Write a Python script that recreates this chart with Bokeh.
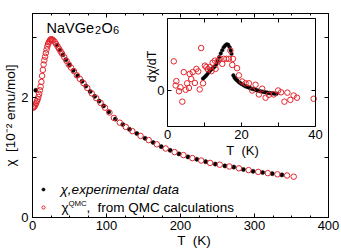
from math import pi
from bokeh.plotting import figure
from bokeh.models import (LinearAxis, Range1d, FixedTicker, Label, Legend, LegendItem)
from bokeh.core.properties import value
from bokeh.embed import file_html
from bokeh.resources import INLINE

# ---------------- data ----------------
# main panel: susceptibility chi [1e-2 emu/mol] vs T [K]
qmc_T = [1, 2, 3, 4, 5, 6, 7, 8, 9, 10, 11, 12, 13, 14, 15, 16, 17, 18, 19, 20,
         21, 22, 23, 24, 25, 26, 27, 28, 30, 32, 34, 36, 38, 40,
         43, 46, 49, 52, 56, 60, 64, 69, 74, 80, 86, 92, 98, 104, 110, 118,
         126, 135, 146, 157, 168, 180, 192, 204, 216, 228, 240, 253, 266, 279,
         292, 305, 318, 331, 344, 353]
qmc_chi = [1.83, 1.84, 1.86, 1.88, 1.91, 1.94, 1.97, 2.01, 2.06, 2.12, 2.18, 2.26,
           2.36, 2.46, 2.55, 2.62, 2.68, 2.74, 2.80, 2.85, 2.89, 2.92, 2.94, 2.96,
           2.97, 2.97, 2.96, 2.95, 2.93, 2.89, 2.85, 2.81, 2.77, 2.73,
           2.67, 2.61, 2.55, 2.50, 2.44, 2.37, 2.31, 2.24, 2.16, 2.07, 1.99, 1.91,
           1.83, 1.75, 1.66, 1.58, 1.51, 1.44, 1.36, 1.29, 1.22, 1.15, 1.09, 1.04,
           0.99, 0.95, 0.91, 0.88, 0.85, 0.82, 0.79, 0.76, 0.74, 0.72, 0.70, 0.68]
exp_T = [4.5, 33, 37, 41, 45, 50, 55, 61, 67, 72, 78, 84, 90, 96, 103, 112, 122,
         131, 141, 152, 163, 174, 186, 198, 210, 222, 234, 247, 260, 272, 285,
         298, 311, 324, 337]
exp_chi = [2.12, 2.87, 2.79, 2.71, 2.63, 2.54, 2.45, 2.36, 2.27, 2.19, 2.10, 2.02,
           1.94, 1.86, 1.76, 1.64, 1.55, 1.47, 1.40, 1.32, 1.25, 1.18, 1.12, 1.06,
           1.01, 0.97, 0.93, 0.89, 0.86, 0.84, 0.80, 0.77, 0.75, 0.73, 0.71]

# inset: dchi/dT vs T
inset_qmc_T = [1.7, 2.4, 2.2, 3.1, 3.5, 4.0, 4.4, 4.9, 5.3, 5.8, 6.0, 6.4, 6.8, 7.4,
               7.8, 8.3, 8.7, 9.1, 9.6, 10.1, 10.5, 10.9, 11.4, 11.9, 12.2, 12.8,
               13.0, 13.6, 14.1, 14.8, 15.2, 15.9, 16.6, 17.0, 17.5, 17.7, 18.8,
               19.3, 20.2, 21.1, 22.0, 22.9, 23.8, 24.7, 25.6, 26.5, 27.4, 28.7,
               29.9, 30.7, 31.6, 32.4, 33.2, 34.1, 35.0, 39.5]
inset_qmc_d = [0.81, 0.26, 0.14, -0.02, 0.09, -0.31, 0.51, 0.02, 0.20, 0.07, 0.46,
               0.32, 0.51, 0.21, 0.60, 0.53, 0.03, 1.18, 0.20, 0.69, 0.65, 0.59,
               0.65, 0.54, 0.77, 0.83, 0.60, 0.81, 0.88, 0.74, 0.88, 0.88, 0.88,
               1.11, 0.71, 0.88, 0.62, 0.42, 0.25, 0.20, 0.20, 0.00, 0.16, -0.11,
               0.05, -0.20, -0.12, -0.11, 0.00, -0.05, -0.31, -0.06, -0.26, -0.14,
               -0.20, -0.23]
inset_exp_T = [9.6, 10.0, 10.4, 10.8, 11.2, 11.6, 12.0, 12.4, 12.8, 13.2, 13.6, 14.0,
               14.4, 14.8, 15.2, 15.6, 16.0, 16.4, 16.8, 17.1, 17.3,
               17.8, 18.1, 18.4, 18.8, 19.2, 19.6, 20.0, 20.5, 21.0, 21.5, 22.0,
               22.5, 23.0, 23.5, 24.0, 24.5, 25.0, 25.5, 26.0, 26.5, 27.0, 27.5,
               28.0, 28.5, 29.0, 29.5]
inset_exp_d = [0.33, 0.37, 0.41, 0.46, 0.51, 0.56, 0.60, 0.63, 0.67, 0.73, 0.82, 0.93,
               1.03, 1.12, 1.20, 1.25, 1.28, 1.27, 1.20, 1.11, 1.02,
               0.42, 0.36, 0.32, 0.28, 0.24, 0.21, 0.18, 0.15, 0.12, 0.10, 0.08,
               0.06, 0.04, 0.03, 0.01, 0.00, -0.02, -0.03, -0.04, -0.05, -0.06,
               -0.07, -0.08, -0.08, -0.09, -0.09]

# ticks
x_ticks = [0, 100, 200, 300, 400]
x_tick_labels = ["0", "100", "200", "300", "400"]
x_minor = [25, 50, 75, 125, 150, 175, 225, 250, 275, 325, 350, 375]
y_ticks = [0, 1, 2, 3]
y_tick_labels = ["0", "", "2", ""]
ix_ticks = [0, 10, 20, 30, 40]
ix_tick_labels = ["0", "", "20", "", "40"]
iy_ticks = [0]
iy_tick_labels = ["0"]

# ---------------- styling ----------------
FONT = "Liberation Sans"
RED = "#e3262d"
FL, FB, FR, FT = 32, 217, 328, 13     # frame edges in canvas pixels
XMAX, YMAX = 400, 3.4
SX = (FR - FL) / XMAX                 # px per K
SY = (FB - FT) / YMAX                 # px per unit

p = figure(width=341, height=252, x_range=(0, XMAX), y_range=(0, YMAX),
           output_backend="svg", toolbar_location=None,
           x_axis_type=None, y_axis_type=None,
           min_border_left=FL, min_border_right=341 - FR, min_border_top=FT,
           min_border_bottom=252 - FB)
p.outline_line_color = "black"
p.outline_line_width = 1
p.background_fill_color = "white"
p.border_fill_color = "white"

# inset ranges: inset frame spans canvas x 167..315 (T 0..40), y 18..126 (-1..2)
IL, IR, IT, IB0 = 167, 315, 18, 126
ISX = (IR - IL) / 40.0
ISY = (IB0 - IT) / 3.0
I0 = IT + 2 * ISY                     # canvas y of inset value 0
p.extra_x_ranges = {"ix": Range1d(-(IL - FL) / ISX, (FR - IL) / ISX)}
p.extra_y_ranges = {"iy": Range1d(-(FB - I0) / ISY, (I0 - FT) / ISY)}


def style(ax, labels=True, size="13px", standoff=4):
    ax.axis_line_color = "black"
    ax.axis_line_width = 1
    ax.major_tick_line_color = "black"
    ax.minor_tick_line_color = "black"
    ax.major_tick_in = 4
    ax.major_tick_out = 0
    ax.minor_tick_in = 2
    ax.minor_tick_out = 0
    ax.major_label_text_font = FONT
    ax.major_label_text_color = "black"
    ax.axis_label_text_font = FONT
    ax.axis_label_text_font_style = "normal"
    ax.axis_label_text_color = "black"
    ax.axis_label_text_font_size = "13.5px"
    if labels:
        ax.major_label_text_font_size = size
        ax.major_label_standoff = standoff
    else:
        ax.major_label_text_font_size = "0px"
        ax.major_label_standoff = 0
    return ax


def ov(ticks, labels):
    return {t: l for t, l in zip(ticks, labels)}


# x label sits a little right of the axis centre in the original
xb = style(LinearAxis(ticker=FixedTicker(ticks=x_ticks, minor_ticks=x_minor),
                      major_label_overrides=ov(x_ticks, x_tick_labels),
                      axis_label="\u2003\u2003T\u00a0\u00a0(K)",
                      axis_label_standoff=0),
           standoff=3)
p.add_layout(xb, "below")
xa = style(LinearAxis(ticker=FixedTicker(ticks=x_ticks, minor_ticks=x_minor),
                      major_label_overrides={t: "" for t in x_ticks}), labels=False)
p.add_layout(xa, "above")
yl = style(LinearAxis(ticker=FixedTicker(ticks=y_ticks),
                      major_label_overrides=ov(y_ticks, y_tick_labels),
                      axis_label="\u03c7\u00a0\u00a0[10\u207b\u00b2 emu/mol]",
                      axis_label_standoff=0))
p.add_layout(yl, "left")
yr = style(LinearAxis(ticker=FixedTicker(ticks=y_ticks),
                      major_label_overrides={t: "" for t in y_ticks}), labels=False)
p.add_layout(yr, "right")

# inset axes (fixed locations inside the main frame)
ib = style(LinearAxis(x_range_name="ix", y_range_name="iy", fixed_location=-1.0,
                      bounds=(0, 40), ticker=FixedTicker(ticks=ix_ticks),
                      major_label_overrides=ov(ix_ticks, ix_tick_labels)),
           standoff=3)
p.add_layout(ib, "below")
it = style(LinearAxis(x_range_name="ix", y_range_name="iy", fixed_location=2.0,
                      bounds=(0, 40), ticker=FixedTicker(ticks=ix_ticks),
                      major_label_overrides={t: "" for t in ix_ticks}), labels=False)
p.add_layout(it, "above")
il = style(LinearAxis(x_range_name="ix", y_range_name="iy", fixed_location=0.0,
                      bounds=(-1, 2), ticker=FixedTicker(ticks=iy_ticks),
                      major_label_overrides=ov(iy_ticks, iy_tick_labels)),
           standoff=3)
p.add_layout(il, "left")
ir = style(LinearAxis(x_range_name="ix", y_range_name="iy", fixed_location=40.0,
                      bounds=(-1, 2), ticker=FixedTicker(ticks=iy_ticks),
                      major_label_overrides={t: "" for t in iy_ticks}), labels=False)
p.add_layout(ir, "right")

# ---------------- glyphs ----------------
r_exp = p.scatter(exp_T, exp_chi, marker="circle", size=4.2,
                  fill_color="black", line_color="black", line_width=0.5)
r_qmc = p.scatter(qmc_T, qmc_chi, marker="circle", size=5.5,
                  fill_color=None, line_color=RED, line_width=1)
p.scatter(inset_exp_T, inset_exp_d, x_range_name="ix", y_range_name="iy",
          marker="circle", size=3.6, fill_color="black", line_color="black",
          line_width=0.5)
p.scatter(inset_qmc_T, inset_qmc_d, x_range_name="ix", y_range_name="iy",
          marker="circle", size=5.5, fill_color=None, line_color=RED, line_width=1)

# legend keys (text added as labels below)
leg = Legend(items=[LegendItem(label=value(""), renderers=[r_exp]),
                    LegendItem(label=value(""), renderers=[r_qmc])],
             location=(7, 6), padding=0, margin=0, spacing=10,
             glyph_width=8, glyph_height=8, label_width=0, label_height=8,
             label_standoff=0, label_text_font_size="1px",
             background_fill_alpha=0, border_line_alpha=0)
p.add_layout(leg)


def txt(s, cx, cy, size, align="left", baseline="middle", angle=0.0,
        style="normal"):
    # cx, cy: canvas pixel position, converted to main data coordinates
    p.add_layout(Label(x=(cx - FL) / SX, y=(FB - cy) / SY,
                       text=s, text_font=FONT, text_font_size=f"{size}px",
                       text_align=align, text_baseline=baseline, angle=angle,
                       text_font_style=style, text_color="black"))


# title inside main axes
txt("NaVGe", 46, 27, 14.5, baseline="alphabetic")
txt("2", 94.5, 29.5, 11, baseline="alphabetic")
txt("O", 101, 27, 14.5, baseline="alphabetic")
txt("6", 112.5, 29.5, 11, baseline="alphabetic")

# inset labels
txt("T\u00a0\u00a0(K)", 242, 150, 13, align="center")
txt("d\u03c7/dT", 151, 66, 12.5, align="center", angle=pi / 2)

# legend texts
txt("\u03c7,experimental data", 60, 189, 13.5, style="italic")
txt("\u03c7", 61, 207, 13.5)
txt("QMC", 68, 202.5, 7.8)
txt(",", 86, 207, 13.5)
txt("from QMC calculations", 97, 207, 13.5)

open("out.html", "w").write(file_html(p, INLINE))
